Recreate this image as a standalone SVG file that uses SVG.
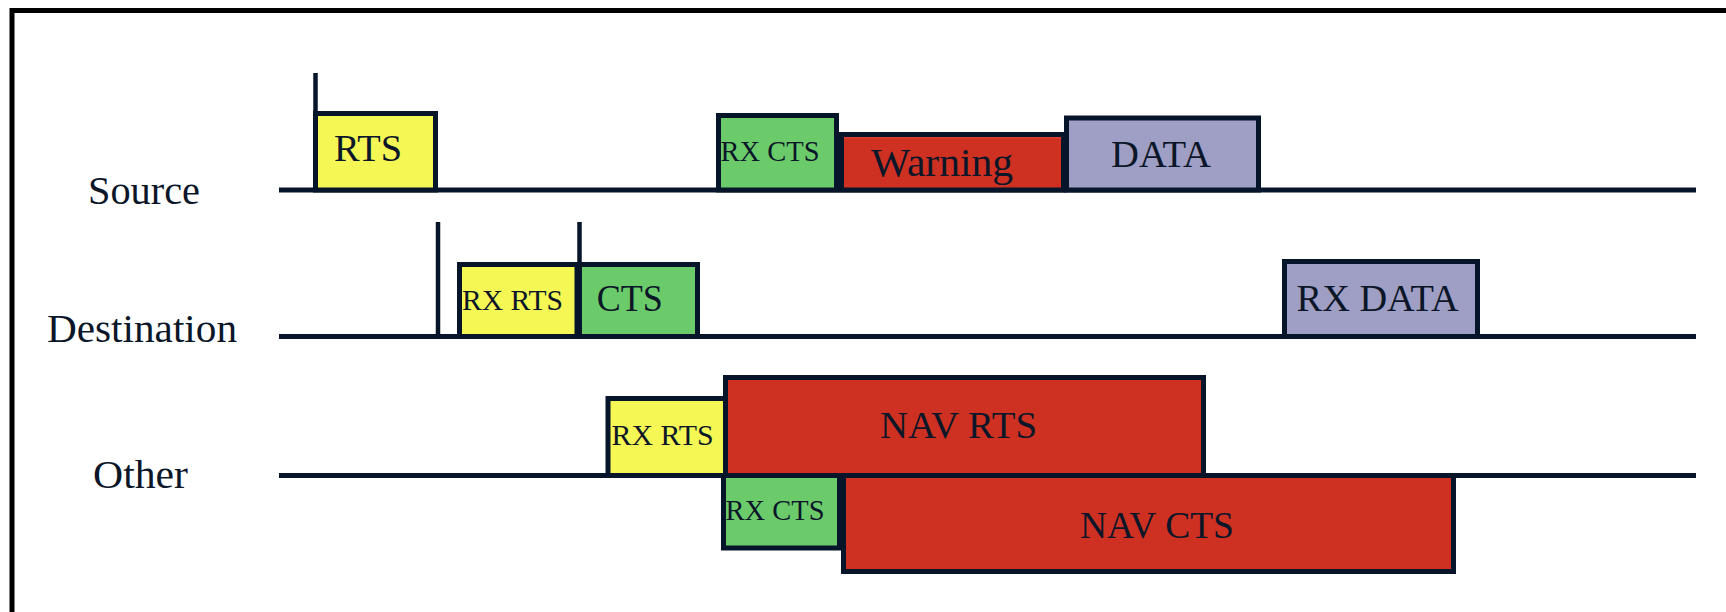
<svg xmlns="http://www.w3.org/2000/svg" width="1726" height="612" viewBox="0 0 1726 612">
  <style>
    .frame { fill: none; stroke: #000000; stroke-width: 5; }
    .axis { stroke: #06152A; stroke-width: 5; fill: none; }
    .tick { stroke: #06152A; stroke-width: 4.5; fill: none; }
    .box { stroke: #06152A; stroke-width: 5; }
    .yellow { fill: #F4F754; }
    .green { fill: #6BCB6B; }
    .red { fill: #CE3122; }
    .warn { fill: url(#warnFill); }
    .lav { fill: #9F9EC4; }
    .lbl { font-family: "Liberation Serif", "Times New Roman", serif; fill: #0B1628; }
    .row { font-size: 39px; }
    .big { font-size: 38px; }
    .small { font-size: 29px; }
  </style>
  <defs>
    <linearGradient id="warnFill" x1="0" y1="0" x2="0" y2="1">
      <stop offset="0" stop-color="#E2574A"/>
      <stop offset="0.09" stop-color="#CE3122"/>
      <stop offset="1" stop-color="#CE3122"/>
    </linearGradient>
  </defs>

  <rect width="1726" height="612" fill="#ffffff"/>
  <!-- outer frame, running off the right and bottom edges -->
  <rect class="frame" x="12" y="10.5" width="1800" height="700"/>

  <!-- row labels -->
  <g id="labels">
    <text class="lbl row" x="88" y="204" textLength="112" lengthAdjust="spacingAndGlyphs">Source</text>
    <text class="lbl row" x="47" y="341.5" textLength="190" lengthAdjust="spacingAndGlyphs">Destination</text>
    <text class="lbl row" x="93" y="488" textLength="95" lengthAdjust="spacingAndGlyphs">Other</text>
  </g>

  <!-- time axes and markers -->
  <g id="connectors">
    <line class="axis" x1="279" y1="190" x2="1696" y2="190"/>
    <line class="axis" x1="279" y1="336.5" x2="1696" y2="336.5"/>
    <line class="axis" x1="279" y1="475.5" x2="1696" y2="475.5"/>
    <line class="tick" x1="315.5" y1="73" x2="315.5" y2="113"/>
    <line class="tick" x1="438" y1="222" x2="438" y2="336"/>
    <line class="tick" x1="579.5" y1="222" x2="579.5" y2="264"/>
  </g>

  <!-- Source row -->
  <g id="src-rts">
    <rect class="box yellow" x="315.5" y="113.5" width="120" height="76.5"/>
    <text class="lbl big" x="334" y="161" textLength="68" lengthAdjust="spacingAndGlyphs">RTS</text>
  </g>
  <g id="src-rx-cts">
    <rect class="box green" x="718.5" y="115.5" width="118" height="74.5"/>
    <text class="lbl small" x="720.5" y="160.7" textLength="99" lengthAdjust="spacingAndGlyphs">RX CTS</text>
  </g>
  <g id="src-warning">
    <rect class="box warn" x="841.5" y="134.5" width="222" height="55.5"/>
    <text class="lbl" font-size="40" x="871" y="175.5" textLength="142" lengthAdjust="spacingAndGlyphs">Warning</text>
  </g>
  <g id="src-data">
    <rect class="box lav" x="1066.5" y="118" width="192" height="72"/>
    <text class="lbl big" x="1111" y="166.7" textLength="100" lengthAdjust="spacingAndGlyphs">DATA</text>
  </g>

  <!-- Destination row -->
  <g id="dst-rx-rts">
    <rect class="box yellow" x="459.5" y="264.5" width="117.5" height="72"/>
    <text class="lbl small" x="462" y="310" textLength="101" lengthAdjust="spacingAndGlyphs">RX RTS</text>
  </g>
  <g id="dst-cts">
    <rect class="box green" x="579.5" y="264.5" width="118" height="72"/>
    <text class="lbl big" x="596.7" y="311" textLength="66" lengthAdjust="spacingAndGlyphs">CTS</text>
  </g>
  <g id="dst-rx-data">
    <rect class="box lav" x="1284.5" y="261.5" width="193" height="75"/>
    <text class="lbl big" x="1296.6" y="310.7" textLength="162" lengthAdjust="spacingAndGlyphs">RX DATA</text>
  </g>

  <!-- Other row -->
  <g id="oth-rx-rts">
    <rect class="box yellow" x="608" y="398.5" width="117.5" height="77"/>
    <text class="lbl small" x="611.6" y="445" textLength="102" lengthAdjust="spacingAndGlyphs">RX RTS</text>
  </g>
  <g id="oth-nav-rts">
    <rect class="box red" x="725.5" y="377.5" width="478" height="98"/>
    <text class="lbl big" x="880" y="438" textLength="157" lengthAdjust="spacingAndGlyphs">NAV RTS</text>
  </g>
  <g id="oth-rx-cts">
    <rect class="box green" x="723.5" y="475.5" width="116" height="72.5"/>
    <text class="lbl small" x="725.5" y="520" textLength="99" lengthAdjust="spacingAndGlyphs">RX CTS</text>
  </g>
  <g id="oth-nav-cts">
    <rect class="box red" x="843.5" y="475.5" width="610" height="96"/>
    <text class="lbl big" x="1080" y="537.5" textLength="154" lengthAdjust="spacingAndGlyphs">NAV CTS</text>
  </g>
</svg>
